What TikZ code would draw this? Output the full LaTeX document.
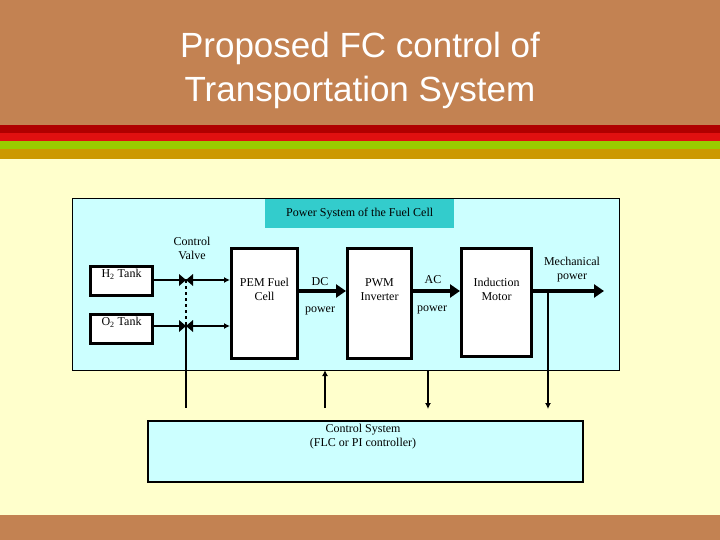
\documentclass[tikz,border=0pt]{standalone}
\usepackage{fontspec}
\setmainfont{Liberation Serif}
\newfontfamily\titlefont{Liberation Sans}
\usetikzlibrary{arrows.meta,calc}
\definecolor{brownbg}{HTML}{C38252}
\definecolor{cream}{HTML}{FFFFCC}
\definecolor{cyanbg}{HTML}{CCFFFF}
\definecolor{teal}{HTML}{33CCCC}
\definecolor{dred}{HTML}{B00000}
\definecolor{bred}{HTML}{E01010}
\definecolor{lgreen}{HTML}{99CC00}
\definecolor{gold}{HTML}{CC9900}
\tikzset{
 blk/.style={draw,line width=3pt,fill=white,inner sep=0pt,anchor=north west},
 lbl/.style={font=\fontsize{12}{14}\selectfont,align=center,inner sep=0pt},
 thin/.style={line width=1.3pt,-{Latex[length=6pt,width=6pt]}},
 thick/.style={line width=4pt,-{Triangle[length=10pt,width=13pt]}}
}
\begin{document}
\begin{tikzpicture}[x=1pt,y=-1pt]
\useasboundingbox (0,0) rectangle (720,540);
\fill[brownbg] (0,0) rectangle (720,540);
\fill[dred] (0,125) rectangle (720,133);
\fill[bred] (0,133) rectangle (720,141);
\fill[lgreen] (0,141) rectangle (720,149);
\fill[gold] (0,149) rectangle (720,159);
\fill[cream] (0,159) rectangle (720,515);
\node[font=\titlefont\fontsize{35}{44}\selectfont,align=center,text=white] (title) at (360,70) {Proposed FC control of\\Transportation System};
\node[draw,fill=cyanbg,line width=0.6pt,minimum width=547pt,minimum height=172pt,anchor=north west,inner sep=0pt] (ps) at (72,198) {};
\node[fill=teal,minimum width=189pt,minimum height=29pt,anchor=north west,inner sep=0pt] (pst) at (265,199) {};
\node[lbl] at (pst.center) {Power System of the Fuel Cell};
\node[blk,minimum width=62pt,minimum height=29pt] (h2) at (89,265) {};
\node[lbl] at ($(h2.north)+(0,9)$) {H\textsubscript{2} Tank};
\node[blk,minimum width=62pt,minimum height=29pt] (o2) at (89,313) {};
\node[lbl] at ($(o2.north)+(0,9)$) {O\textsubscript{2} Tank};
\node[blk,minimum width=66pt,minimum height=110pt] (pem) at (230,247) {};
\node[lbl,anchor=north] at ($(pem.north)+(0,31)$) {PEM Fuel\\Cell};
\node[blk,minimum width=64pt,minimum height=110pt] (pwm) at (346,247) {};
\node[lbl,anchor=north] at ($(pwm.north)+(0,31)$) {PWM\\Inverter};
\node[blk,minimum width=70pt,minimum height=108pt] (im) at (460,247) {};
\node[lbl,anchor=north] at ($(im.north)+(0,31)$) {Induction\\Motor};
\node[draw,fill=cyanbg,line width=2pt,minimum width=435pt,minimum height=61pt,anchor=north west,inner sep=0pt] (cs) at (147,420) {};
\node[lbl] at (363,437) {Control System\\(FLC or PI controller)};
\node[lbl] at (192,248) {Control\\Valve};
\coordinate (v1) at (186,280);
\coordinate (v2) at (186,326);
\draw[line width=1.3pt] (h2.east|-v1) -- (v1);
\draw[line width=1.3pt] (o2.east|-v2) -- (v2);
\draw[thin] (v1) -- (pem.west|-v1);
\draw[thin] (v2) -- (pem.west|-v2);
\draw[line width=1.3pt,dashed] (v1) -- (v2);
\coordinate (vb) at (186,408);
\draw[line width=1.3pt] (v2) -- (vb);
\foreach \v in {v1,v2}{
 \fill ($(\v)+(-7,-6)$) -- ($(\v)+(7,6)$) -- ($(\v)+(7,-6)$) -- ($(\v)+(-7,6)$) -- cycle;
}
\draw[thick] (pem.east|-0,291) -- (pwm.west|-0,291);
\draw[thick] (pwm.east|-0,291) -- (im.west|-0,291);
\coordinate (mo) at (604,291);
\draw[thick] (im.east|-0,291) -- (mo);
\node[lbl] at (320,282) {DC};
\node[lbl] at (320,311) {power};
\node[lbl] at (433,280) {AC};
\node[lbl] at (432,310) {power};
\node[lbl] at (572,270) {Mechanical\\power};
\coordinate (a1) at (325,408); \coordinate (a1e) at (325,370);
\draw[thin] (a1) -- (a1e);
\coordinate (a2) at (428,370); \coordinate (a2e) at (428,409);
\draw[thin] (a2) -- (a2e);
\coordinate (a3) at (548,291); \coordinate (a3e) at (548,409);
\draw[thin] (a3) -- (a3e);
\end{tikzpicture}
\end{document}
